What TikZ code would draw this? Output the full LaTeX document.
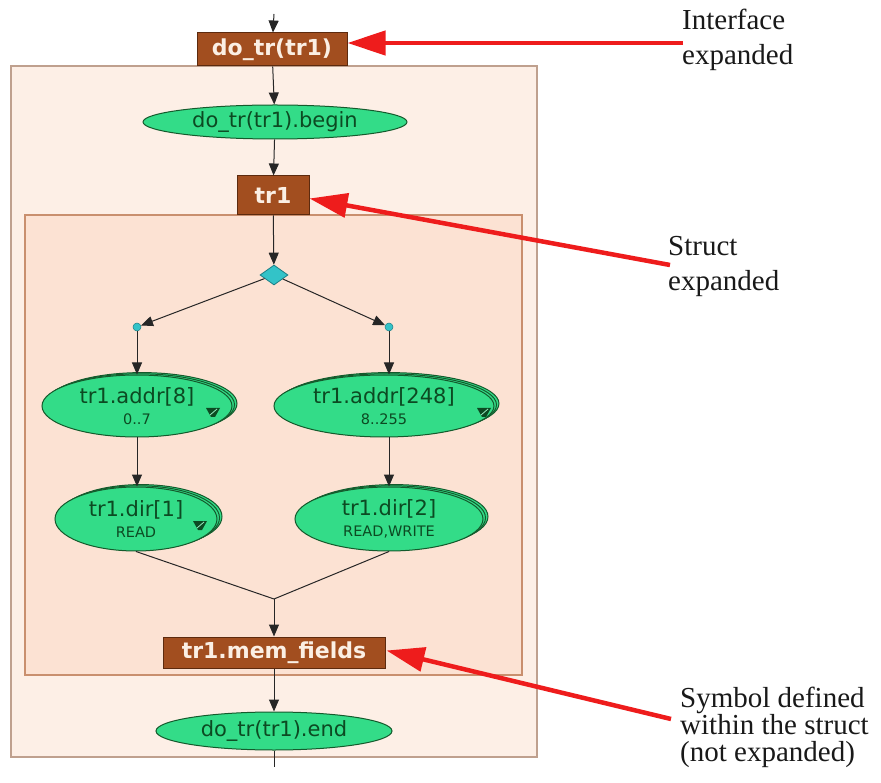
\documentclass[tikz,border=0pt]{standalone}
\usepackage{fontspec}
\setmainfont{Liberation Serif}
\newfontfamily\diagfont{DejaVu Sans}
\usetikzlibrary{arrows.meta,shapes.geometric,shadows,calc}

\definecolor{boxbrown}{HTML}{A24E1F}
\definecolor{boxedge}{HTML}{5C2A0E}
\definecolor{boxtext}{HTML}{FBEFE4}
\definecolor{outerfill}{HTML}{FDEFE6}
\definecolor{outeredge}{HTML}{BFA08E}
\definecolor{innerfill}{HTML}{FCE2D3}
\definecolor{inneredge}{HTML}{C98F6E}
\definecolor{nodegreen}{HTML}{33DC88}
\definecolor{nodeedge}{HTML}{145A2C}
\definecolor{nodetext}{HTML}{0C4A22}
\definecolor{junction}{HTML}{33C3C8}
\definecolor{junctionedge}{HTML}{1C7F86}
\definecolor{callout}{HTML}{EE1C1C}

% small "expandable" marker drawn inside a field node
\newcommand\ddicon[1]{%
  \fill[nodetext] (#1) ++(-7,-4) -- ++(14,0) -- ++(-5,9) -- ++(-4,0) -- cycle;
  \draw[nodegreen!50!white, line width=0.8pt] (#1) ++(-3,3) -- ++(7,-6);
}

\tikzset{
  symbox/.style={rectangle, draw=boxedge, fill=boxbrown, text=boxtext,
    line width=1pt, inner sep=0pt,
    font=\diagfont\bfseries\fontsize{22}{24}\selectfont},
  action/.style={ellipse, draw=nodeedge, fill=nodegreen, text=nodetext,
    line width=1pt, inner sep=0pt, align=center,
    font=\diagfont\fontsize{21}{23}\selectfont},
  stacked/.style={action,
    double copy shadow={shadow xshift=2.5pt, shadow yshift=1.2pt}},
  junctiondot/.style={circle, fill=junction, draw=junctionedge,
    line width=0.5pt, minimum size=8pt, inner sep=0pt},
  branch/.style={diamond, fill=junction, draw=junctionedge, line width=0.8pt,
    minimum width=28pt, minimum height=20pt, inner sep=0pt},
  flow/.style={draw=black!85, line width=1pt,
    -{Triangle[length=12pt,width=10pt]}},
  plain/.style={draw=black!85, line width=1pt},
  callarrow/.style={draw=callout, line width=4.5pt,
    -{Triangle[length=38pt,width=24pt]}},
  note/.style={align=left, inner sep=0pt, anchor=north west, text=black!90}
}

\begin{document}
\begin{tikzpicture}[x=1pt,y=-1pt]
  \useasboundingbox[fill=white] (0,0) rectangle (881,783);

  % scopes of the expanded interface and struct
  \draw[fill=outerfill, draw=outeredge, line width=1.2pt] (11,66) rectangle (537,757);
  \draw[fill=innerfill, draw=inneredge, line width=1.2pt] (25,215) rectangle (522,675);

  % symbols
  \node[symbox, minimum width=150pt, minimum height=33pt] (iface) at (272,49.5) {do\_tr(tr1)};
  \node[symbox, minimum width=72pt, minimum height=39pt] (tr1) at (273,195.5) {tr1};
  \node[symbox, minimum width=222pt, minimum height=31pt] (mem) at (274,652.5) {tr1.mem\_fields};

  % actions
  \node[action, minimum width=264pt, minimum height=34pt] (begin) at (275,122) {do\_tr(tr1).begin};
  \node[action, minimum width=236pt, minimum height=38pt] (end) at (274,731) {do\_tr(tr1).end};

  % fields of the struct
  \node[stacked, minimum width=190pt, minimum height=62pt] (a8) at (137,406)
    {tr1.addr[8]\\[-2pt]{\fontsize{14.5}{16}\selectfont 0..7}};
  \node[stacked, minimum width=220pt, minimum height=62pt] (a248) at (384,406)
    {tr1.addr[248]\\[-2pt]{\fontsize{14.5}{16}\selectfont 8..255}};
  \node[stacked, minimum width=162pt, minimum height=64pt] (d1) at (136,519)
    {tr1.dir[1]\\[-2pt]{\fontsize{14.5}{16}\selectfont READ}};
  \node[stacked, minimum width=188pt, minimum height=64pt] (d2) at (389,519)
    {tr1.dir[2]\\[-2pt]{\fontsize{14.5}{16}\selectfont READ,WRITE}};

  \ddicon{$(a8.center)+(76,6)$}
  \ddicon{$(a248.center)+(100,6)$}
  \ddicon{$(d1.center)+(64,6)$}

  % branching
  \node[branch] (dia) at (274,275) {};
  \node[junctiondot] (dotL) at (137,327) {};
  \node[junctiondot] (dotR) at (389,327) {};
  \coordinate (topstub) at (274,14);
  \coordinate (merge) at (274,599);
  \coordinate (bottomstub) at (274,767);

  % connectors
  \draw[flow] (topstub) -- (iface);
  \draw[flow] (iface) -- (begin);
  \draw[flow] (begin) -- (tr1);
  \draw[flow] (tr1) -- (dia);
  \draw[flow] (dia) -- (dotL);
  \draw[flow] (dia) -- (dotR);
  \draw[flow] (dotL) -- (dotL |- a8.north);
  \draw[flow] (dotR) -- (dotR |- a248.north);
  \draw[flow] (a8.south) -- (a8.south |- d1.north);
  \draw[flow] (d2.north |- a248.south) -- (d2.north);
  \draw[plain] (d1.south) -- (merge);
  \draw[plain] (d2.south) -- (merge);
  \draw[flow] (merge) -- (mem);
  \draw[flow] (mem) -- (end);
  \draw[plain] (end) -- (bottomstub);

  % annotations
  \node[note, font=\fontsize{29}{35}\selectfont] (n1) at (682,9) {Interface\\expanded};
  \node[note, font=\fontsize{29}{35}\selectfont] (n2) at (668,236) {Struct\\expanded};
  \node[note, font=\fontsize{29}{27}\selectfont] (n3) at (680,687) {Symbol defined\\within the struct\\(not expanded)};

  \coordinate (c1) at (683,43);
  \coordinate (c2) at (670,265);
  \coordinate (c3) at (671,719);
  \draw[callarrow] (c1) -- (iface.east |- c1);
  \draw[callarrow] (c2) -- ($(tr1.east)+(0,3)$);
  \draw[callarrow] (c3) -- ($(mem.east)+(1,-2)$);
\end{tikzpicture}
\end{document}
